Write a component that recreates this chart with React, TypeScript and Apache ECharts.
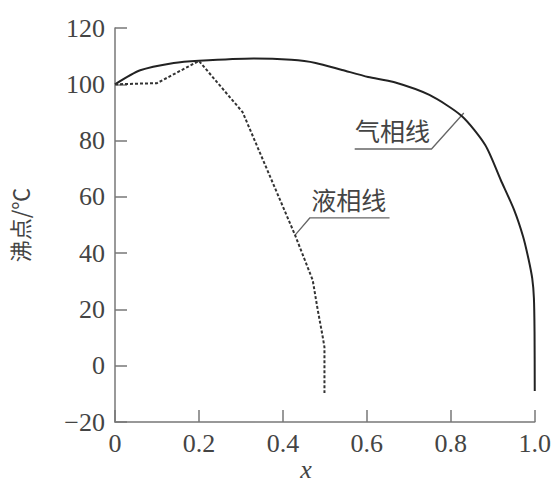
import React, { useEffect, useRef } from "react";
import * as echarts from "echarts";

const vaporX = [0, 0.06, 0.14, 0.2, 0.33, 0.42, 0.478, 0.541, 0.603, 0.664, 0.749, 0.826, 0.882, 0.919, 0.951, 0.972, 0.985, 0.994, 0.998, 0.9995, 1.0];
const vaporY = [100, 105, 107.6, 108.4, 109.2, 108.7, 107.6, 105.1, 102.6, 100.8, 96.2, 88.7, 78.4, 66, 55.3, 46, 38, 31, 24, 12, -9];

const liquidX = [0, 0.1, 0.2, 0.304, 0.429, 0.471, 0.483, 0.494, 0.499, 0.499];
const liquidY = [100, 100.4, 108.3, 90.1, 46.4, 30.4, 19.8, 11, 6.6, -9.7];

const xTicks = [0, 0.2, 0.4, 0.6, 0.8, 1.0];
const yTicks = [-20, 0, 20, 40, 60, 80, 100, 120];

// annotations (data coordinates)
const vaporLabel = { text: "气相线", at: [0.661, 83.8], leader: [[0.571, 77], [0.754, 77], [0.831, 89.8]] };
const liquidLabel = { text: "液相线", at: [0.557, 59.2], leader: [[0.654, 52.5], [0.464, 52.5], [0.429, 46.4]] };
const xNamePos = [0.455, -37];

export default function App() {
  const ref = useRef<HTMLDivElement>(null);
  useEffect(() => {
    if (!ref.current) return;
    const chart = echarts.init(ref.current, null, { renderer: "svg" });
    const serif = "Times New Roman";
    const cjk = "Noto Sans CJK SC";
    const axisColor = "#777";
    chart.setOption({
      animation: false,
      backgroundColor: "#fff",
      textStyle: { fontFamily: serif },
      grid: { left: 107, right: 16, top: 28, bottom: 66, containLabel: false },
      xAxis: {
        type: "value",
        min: xTicks[0],
        max: xTicks[xTicks.length - 1],
        interval: 0.2,
        axisLine: { show: true, onZero: false, lineStyle: { color: axisColor, width: 1.5 } },
        axisTick: { show: true, inside: true, length: 12, lineStyle: { color: axisColor, width: 1.5 } },
        splitLine: { show: false },
        axisLabel: {
          margin: 8,
          fontFamily: serif,
          fontSize: 26,
          color: "#444",
          formatter: (v: number) => (v === 0 ? "0" : v.toFixed(1)),
        },
      },
      yAxis: {
        type: "value",
        min: yTicks[0],
        max: yTicks[yTicks.length - 1],
        interval: 20,
        name: "沸点/℃",
        nameLocation: "middle",
        nameRotate: 90,
        nameGap: 85,
        nameTextStyle: { fontFamily: cjk, fontSize: 22, color: "#444" },
        axisLine: { show: true, onZero: false, lineStyle: { color: axisColor, width: 1.5 } },
        axisTick: { show: true, inside: true, length: 12, lineStyle: { color: axisColor, width: 1.5 } },
        splitLine: { show: false },
        axisLabel: {
          margin: 10,
          fontFamily: serif,
          fontSize: 26,
          color: "#444",
          formatter: (v: number) => (v < 0 ? "\u2212" + Math.abs(v) : String(v)),
        },
      },
      series: [
        {
          type: "line",
          name: "气相线",
          data: vaporX.map((x, i) => [x, vaporY[i]]),
          showSymbol: false,
          smooth: 0.25,
          lineStyle: { color: "#222", width: 2 },
        },
        {
          type: "line",
          name: "液相线",
          data: liquidX.map((x, i) => [x, liquidY[i]]),
          showSymbol: false,
          smooth: false,
          lineStyle: { color: "#333", width: 2, type: [3, 2] },
        },
      ],
    });

    const px = (p: number[]) => chart.convertToPixel({ gridIndex: 0 }, p) as number[];
    const graphics: any[] = [];
    [vaporLabel, liquidLabel].forEach((lab) => {
      const c = px(lab.at);
      graphics.push({
        type: "text",
        x: c[0],
        y: c[1],
        style: {
          text: lab.text,
          fontFamily: cjk,
          fontSize: 25,
          fill: "#444",
          align: "center",
          verticalAlign: "middle",
        },
      });
      graphics.push({
        type: "polyline",
        shape: { points: lab.leader.map((p) => px(p)) },
        style: { stroke: "#666", lineWidth: 1.3, fill: null },
      });
    });
    const xn = px(xNamePos);
    graphics.push({
      type: "text",
      x: xn[0],
      y: xn[1],
      style: {
        text: "x",
        fontFamily: serif,
        fontStyle: "italic",
        fontSize: 26,
        fill: "#444",
        align: "center",
        verticalAlign: "middle",
      },
    });
    chart.setOption({ graphic: graphics });
    return () => chart.dispose();
  }, []);
  return <div ref={ref} style={{ position: "fixed", left: 0, top: 0, width: 554, height: 488 }} />;
}
